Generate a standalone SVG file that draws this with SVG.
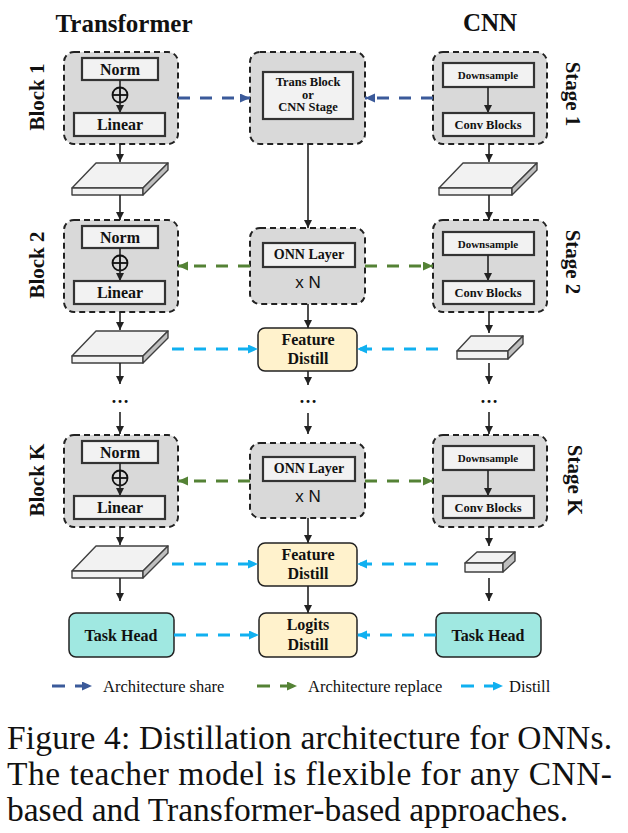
<svg xmlns="http://www.w3.org/2000/svg" width="628" height="833" viewBox="0 0 628 833">
<defs>
<style>
.blk{fill:#d9d9d9;stroke:#222;stroke-width:2;stroke-dasharray:6 4}
.in{fill:#f2f2f2;stroke:#333;stroke-width:2.2}
.fd{fill:#fff2cc;stroke:#222;stroke-width:1.5}
.th{fill:#a0e8e1;stroke:#222;stroke-width:1.5}
.b{font-family:"Liberation Serif",serif;font-weight:bold;fill:#111;text-anchor:middle}
.r{font-family:"Liberation Serif",serif;fill:#111}
.s{font-family:"Liberation Sans",sans-serif;fill:#111;text-anchor:middle}
.k{stroke:#222;stroke-width:1.6;fill:none}
.top{fill:#f2f2f2;stroke:#404040;stroke-width:1.4;stroke-linejoin:round}
.side{fill:#bfbfbf;stroke:#404040;stroke-width:1.4;stroke-linejoin:round}
.db{stroke:#3b5a9a;stroke-width:3;stroke-dasharray:12 10;fill:none}
.gr{stroke:#548235;stroke-width:3;stroke-dasharray:12 10;fill:none}
.lb{stroke:#10b0f0;stroke-width:3;stroke-dasharray:12 10;fill:none}
</style>
<marker id="ak" markerUnits="userSpaceOnUse" markerWidth="9" markerHeight="9" refX="8" refY="4" orient="auto"><path d="M0,0 L8,4 L0,8 z" fill="#222"/></marker>
<marker id="adb" markerUnits="userSpaceOnUse" markerWidth="11" markerHeight="10" refX="10" refY="4.5" orient="auto"><path d="M0,0 L10,4.5 L0,9 z" fill="#3b5a9a"/></marker>
<marker id="agr" markerUnits="userSpaceOnUse" markerWidth="11" markerHeight="10" refX="10" refY="4.5" orient="auto"><path d="M0,0 L10,4.5 L0,9 z" fill="#548235"/></marker>
<marker id="alb" markerUnits="userSpaceOnUse" markerWidth="11" markerHeight="10" refX="10" refY="4.5" orient="auto"><path d="M0,0 L10,4.5 L0,9 z" fill="#10b0f0"/></marker>
</defs>
<rect width="628" height="833" fill="#fff"/>

<!-- titles -->
<text class="b" x="124" y="32" font-size="25">Transformer</text>
<text class="b" x="490" y="31" font-size="25">CNN</text>
<text class="b" font-size="21" transform="translate(44,97) rotate(-90)">Block 1</text>
<text class="b" font-size="21" transform="translate(44,265) rotate(-90)">Block 2</text>
<text class="b" font-size="21" transform="translate(44,480) rotate(-90)">Block K</text>
<text class="b" font-size="21" transform="translate(566,94) rotate(90)">Stage 1</text>
<text class="b" font-size="21" transform="translate(566,262) rotate(90)">Stage 2</text>
<text class="b" font-size="21" transform="translate(568,480) rotate(90)">Stage K</text>

<!-- Transformer blocks -->
<g id="tblock1">
<rect class="blk" x="64" y="52" width="114" height="92" rx="10"/>
<rect class="in" x="82" y="58" width="76" height="22"/>
<text class="b" x="120" y="75" font-size="16">Norm</text>
<line class="k" x1="120" y1="80" x2="120" y2="87"/>
<circle cx="120" cy="95" r="7.5" fill="none" stroke="#111" stroke-width="1.8"/>
<line x1="112.5" y1="95" x2="127.5" y2="95" stroke="#111" stroke-width="1.8"/>
<line x1="120" y1="87.5" x2="120" y2="102.5" stroke="#111" stroke-width="1.8"/>
<line class="k" x1="120" y1="102" x2="120" y2="113" marker-end="url(#ak)"/>
<rect class="in" x="74" y="113" width="91" height="23"/>
<text class="b" x="120" y="130" font-size="16">Linear</text>
</g>
<g id="tblock2">
<rect class="blk" x="64" y="220" width="114" height="92" rx="10"/>
<rect class="in" x="82" y="226" width="76" height="22"/>
<text class="b" x="120" y="243" font-size="16">Norm</text>
<line class="k" x1="120" y1="248" x2="120" y2="255"/>
<circle cx="120" cy="263" r="7.5" fill="none" stroke="#111" stroke-width="1.8"/>
<line x1="112.5" y1="263" x2="127.5" y2="263" stroke="#111" stroke-width="1.8"/>
<line x1="120" y1="255.5" x2="120" y2="270.5" stroke="#111" stroke-width="1.8"/>
<line class="k" x1="120" y1="270" x2="120" y2="281" marker-end="url(#ak)"/>
<rect class="in" x="74" y="281" width="91" height="23"/>
<text class="b" x="120" y="298" font-size="16">Linear</text>
</g>
<g id="tblockK">
<rect class="blk" x="64" y="435" width="114" height="92" rx="10"/>
<rect class="in" x="82" y="441" width="76" height="22"/>
<text class="b" x="120" y="458" font-size="16">Norm</text>
<line class="k" x1="120" y1="463" x2="120" y2="470"/>
<circle cx="120" cy="478" r="7.5" fill="none" stroke="#111" stroke-width="1.8"/>
<line x1="112.5" y1="478" x2="127.5" y2="478" stroke="#111" stroke-width="1.8"/>
<line x1="120" y1="470.5" x2="120" y2="485.5" stroke="#111" stroke-width="1.8"/>
<line class="k" x1="120" y1="485" x2="120" y2="496" marker-end="url(#ak)"/>
<rect class="in" x="74" y="496" width="91" height="23"/>
<text class="b" x="120" y="513" font-size="16">Linear</text>
</g>

<!-- middle column -->
<g id="shared">
<rect class="blk" x="250" y="52" width="115" height="92" rx="10"/>
<rect class="in" x="263" y="72" width="90" height="47"/>
<text class="b" x="308" y="86" font-size="12.5">Trans Block</text>
<text class="b" x="308" y="98.5" font-size="12.5">or</text>
<text class="b" x="308" y="111" font-size="12.5">CNN Stage</text>
</g>
<g id="onn2">
<rect class="blk" x="250" y="228" width="115" height="76" rx="10"/>
<rect class="in" x="263" y="243" width="92" height="24"/>
<text class="b" x="309" y="259" font-size="14">ONN Layer</text>
<text class="s" x="308" y="288" font-size="17">x N</text>
</g>
<g id="onnK">
<rect class="blk" x="250" y="443" width="115" height="75" rx="10"/>
<rect class="in" x="263" y="457" width="92" height="24"/>
<text class="b" x="309" y="473" font-size="14">ONN Layer</text>
<text class="s" x="308" y="502" font-size="17">x N</text>
</g>
<g id="fd2">
<rect class="fd" x="258" y="328" width="99" height="43" rx="7"/>
<text class="b" x="308" y="345" font-size="16">Feature</text>
<text class="b" x="308" y="364" font-size="16">Distill</text>
</g>
<g id="fdK">
<rect class="fd" x="258" y="543" width="99" height="43" rx="7"/>
<text class="b" x="308" y="560" font-size="16">Feature</text>
<text class="b" x="308" y="579" font-size="16">Distill</text>
</g>
<g id="logits">
<rect class="fd" x="259" y="613" width="98" height="44" rx="7"/>
<text class="b" x="308" y="630" font-size="16">Logits</text>
<text class="b" x="308" y="650" font-size="16">Distill</text>
</g>

<!-- CNN stages -->
<g id="stage1">
<rect class="blk" x="433" y="52" width="114" height="92" rx="10"/>
<rect class="in" x="443" y="63" width="91" height="24"/>
<text class="b" x="488" y="79" font-size="11">Downsample</text>
<line class="k" x1="488" y1="87" x2="488" y2="113" marker-end="url(#ak)"/>
<rect class="in" x="443" y="113" width="91" height="23"/>
<text class="b" x="488" y="129" font-size="12.5">Conv Blocks</text>
</g>
<g id="stage2">
<rect class="blk" x="433" y="220" width="114" height="92" rx="10"/>
<rect class="in" x="443" y="232" width="91" height="23"/>
<text class="b" x="488" y="247.5" font-size="11">Downsample</text>
<line class="k" x1="488" y1="255" x2="488" y2="281" marker-end="url(#ak)"/>
<rect class="in" x="443" y="281" width="91" height="23"/>
<text class="b" x="488" y="297" font-size="12.5">Conv Blocks</text>
</g>
<g id="stageK">
<rect class="blk" x="433" y="435" width="114" height="92" rx="10"/>
<rect class="in" x="443" y="446" width="91" height="24"/>
<text class="b" x="488" y="462" font-size="11">Downsample</text>
<line class="k" x1="488" y1="470" x2="488" y2="496" marker-end="url(#ak)"/>
<rect class="in" x="443" y="496" width="91" height="22"/>
<text class="b" x="488" y="512" font-size="12.5">Conv Blocks</text>
</g>

<!-- task heads -->
<g id="thT">
<rect class="th" x="69" y="613" width="105" height="44" rx="7"/>
<text class="b" x="121" y="641" font-size="16">Task Head</text>
</g>
<g id="thC">
<rect class="th" x="436" y="613" width="105" height="44" rx="7"/>
<text class="b" x="488" y="641" font-size="16">Task Head</text>
</g>

<!-- feature slabs -->
<g id="slabT1">
<polygon class="top" points="96,163 168,163 143,188 72,188"/>
<rect class="top" x="72" y="188" width="71" height="7"/>
<polygon class="side" points="143,188 168,163 168,170 143,195"/>
</g>
<g id="slabT2">
<polygon class="top" points="96,331 168,331 143,356 72,356"/>
<rect class="top" x="72" y="356" width="71" height="7"/>
<polygon class="side" points="143,356 168,331 168,338 143,363"/>
</g>
<g id="slabTK">
<polygon class="top" points="96,546 168,546 143,571 72,571"/>
<rect class="top" x="72" y="571" width="71" height="7"/>
<polygon class="side" points="143,571 168,546 168,553 143,578"/>
</g>
<g id="slabC1">
<polygon class="top" points="463,163 537,163 512,188 439,188"/>
<rect class="top" x="439" y="188" width="73" height="7"/>
<polygon class="side" points="512,188 537,163 537,170 512,195"/>
</g>
<g id="slabC2">
<polygon class="top" points="471,336 523,336 508,351 457,351"/>
<rect class="top" x="457" y="351" width="51" height="8"/>
<polygon class="side" points="508,351 523,336 523,344 508,359"/>
</g>
<g id="slabCK">
<polygon class="top" points="477,552 515,552 503,563 465,563"/>
<rect class="top" x="465" y="563" width="38" height="9"/>
<polygon class="side" points="503,563 515,552 515,561 503,572"/>
</g>

<!-- dots -->
<g id="dots" font-family="Liberation Serif,serif" font-size="18" font-weight="bold" text-anchor="middle" fill="#111">
<text x="120" y="403">…</text>
<text x="308" y="403">…</text>
<text x="489" y="403">…</text>
</g>

<!-- connectors -->
<g id="connectors">
<line class="k" x1="120" y1="144" x2="120" y2="162" marker-end="url(#ak)"/>
<line class="k" x1="120" y1="195" x2="120" y2="220" marker-end="url(#ak)"/>
<line class="k" x1="120" y1="312" x2="120" y2="330" marker-end="url(#ak)"/>
<line class="k" x1="120" y1="363" x2="120" y2="384" marker-end="url(#ak)"/>
<line class="k" x1="120" y1="412" x2="120" y2="434" marker-end="url(#ak)"/>
<line class="k" x1="120" y1="527" x2="120" y2="545" marker-end="url(#ak)"/>
<line class="k" x1="120" y1="578" x2="120" y2="601" marker-end="url(#ak)"/>

<line class="k" x1="308" y1="144" x2="308" y2="228" marker-end="url(#ak)"/>
<line class="k" x1="308" y1="304" x2="308" y2="328" marker-end="url(#ak)"/>
<line class="k" x1="308" y1="371" x2="308" y2="385" marker-end="url(#ak)"/>
<line class="k" x1="308" y1="413" x2="308" y2="434" marker-end="url(#ak)"/>
<line class="k" x1="308" y1="518" x2="308" y2="543" marker-end="url(#ak)"/>
<line class="k" x1="308" y1="586" x2="308" y2="613" marker-end="url(#ak)"/>

<line class="k" x1="489" y1="144" x2="489" y2="162" marker-end="url(#ak)"/>
<line class="k" x1="489" y1="195" x2="489" y2="220" marker-end="url(#ak)"/>
<line class="k" x1="489" y1="312" x2="489" y2="333" marker-end="url(#ak)"/>
<line class="k" x1="489" y1="363" x2="489" y2="384" marker-end="url(#ak)"/>
<line class="k" x1="489" y1="412" x2="489" y2="434" marker-end="url(#ak)"/>
<line class="k" x1="489" y1="527" x2="489" y2="546" marker-end="url(#ak)"/>
<line class="k" x1="489" y1="578" x2="489" y2="601" marker-end="url(#ak)"/>

<line class="db" x1="178" y1="98" x2="250" y2="98" marker-end="url(#adb)"/>
<line class="db" x1="433" y1="98" x2="365" y2="98" marker-end="url(#adb)"/>
<line class="gr" x1="250" y1="266" x2="178" y2="266" marker-end="url(#agr)"/>
<line class="gr" x1="365" y1="266" x2="433" y2="266" marker-end="url(#agr)"/>
<line class="gr" x1="250" y1="481" x2="178" y2="481" marker-end="url(#agr)"/>
<line class="gr" x1="365" y1="481" x2="433" y2="481" marker-end="url(#agr)"/>
<line class="lb" x1="172" y1="349" x2="258" y2="349" marker-end="url(#alb)"/>
<line class="lb" x1="438" y1="349" x2="357" y2="349" marker-end="url(#alb)"/>
<line class="lb" x1="172" y1="564" x2="258" y2="564" marker-end="url(#alb)"/>
<line class="lb" x1="438" y1="564" x2="357" y2="564" marker-end="url(#alb)"/>
<line class="lb" x1="174" y1="635" x2="259" y2="635" marker-end="url(#alb)"/>
<line class="lb" x1="436" y1="635" x2="357" y2="635" marker-end="url(#alb)"/>
</g>

<!-- legend -->
<g id="legend">
<line class="db" x1="52" y1="686" x2="92" y2="686" marker-end="url(#adb)" style="stroke-dasharray:13 10"/>
<text class="r" x="103" y="692" font-size="16.5">Architecture share</text>
<line class="gr" x1="257" y1="686" x2="297" y2="686" marker-end="url(#agr)" style="stroke-dasharray:13 10"/>
<text class="r" x="308" y="692" font-size="16.5">Architecture replace</text>
<line class="lb" x1="461" y1="686" x2="503" y2="686" marker-end="url(#alb)" style="stroke-dasharray:13 10"/>
<text class="r" x="509" y="692" font-size="16.5">Distill</text>
</g>

<!-- caption -->
<g id="caption" font-size="33.5">
<text class="r" x="7" y="749" textLength="605" lengthAdjust="spacing">Figure 4: Distillation architecture for ONNs.</text>
<text class="r" x="7" y="785" textLength="605" lengthAdjust="spacing">The teacher model is flexible for any CNN-</text>
<text class="r" x="7" y="821">based and Transformer-based approaches.</text>
</g>
</svg>
